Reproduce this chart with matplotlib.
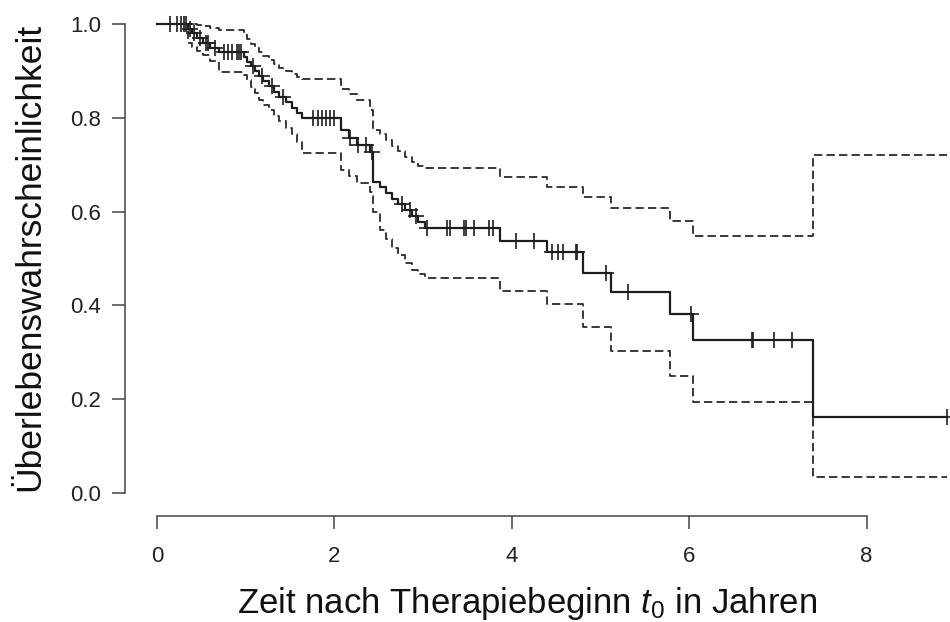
import numpy as np
import matplotlib
matplotlib.use('Agg')
import matplotlib.pyplot as plt

plt.rcParams['font.family'] = 'Liberation Sans'
plt.rcParams['mathtext.fontset'] = 'custom'
plt.rcParams['mathtext.rm'] = 'Liberation Sans'
plt.rcParams['mathtext.it'] = 'Liberation Sans:italic'
plt.rcParams['lines.scale_dashes'] = False

# Kaplan-Meier Schätzung: Ereigniszeiten (Jahre) und Überlebenswahrscheinlichkeit danach
zeiten = [0.35, 0.40, 0.45, 0.52, 0.60, 0.70, 0.98, 1.02, 1.06, 1.10, 1.15, 1.20,
          1.26, 1.32, 1.38, 1.45, 1.52, 1.58, 1.64, 2.08, 2.17, 2.25, 2.40, 2.43,
          2.51, 2.58, 2.65, 2.72, 2.80, 2.87, 2.94, 3.02, 3.87, 4.40, 4.80, 5.12,
          5.78, 6.04, 7.40]
surv = [0.990, 0.980, 0.970, 0.960, 0.950, 0.940, 0.930, 0.920, 0.910, 0.900, 0.889, 0.878,
        0.867, 0.856, 0.845, 0.834, 0.822, 0.811, 0.800, 0.774, 0.757, 0.742, 0.727, 0.663,
        0.652, 0.640, 0.628, 0.616, 0.604, 0.591, 0.578, 0.565, 0.537, 0.514, 0.470, 0.429,
        0.382, 0.326, 0.162]
# 95%-Konfidenzband
ki_oben = [1.000, 1.000, 0.998, 0.995, 0.992, 0.988, 0.980, 0.968, 0.958, 0.948, 0.940, 0.932,
           0.924, 0.915, 0.907, 0.899, 0.893, 0.888, 0.883, 0.862, 0.850, 0.838, 0.816, 0.775,
           0.765, 0.752, 0.740, 0.729, 0.717, 0.706, 0.697, 0.693, 0.674, 0.652, 0.631, 0.608,
           0.580, 0.548, 0.720]
ki_unten = [0.960, 0.952, 0.943, 0.933, 0.922, 0.897, 0.891, 0.880, 0.866, 0.852, 0.838, 0.827,
            0.816, 0.804, 0.793, 0.778, 0.765, 0.748, 0.725, 0.689, 0.675, 0.661, 0.642, 0.600,
            0.560, 0.542, 0.522, 0.507, 0.490, 0.476, 0.466, 0.458, 0.431, 0.403, 0.354, 0.303,
            0.249, 0.194, 0.034]
# zensierte Beobachtungen
zensiert = [0.15, 0.23, 0.27, 0.30, 0.33, 0.37, 0.42, 0.48, 0.55, 0.58, 0.65, 0.75, 0.80,
            0.85, 0.90, 0.93, 0.95, 1.08, 1.18, 1.30, 1.42, 1.76, 1.82, 1.86, 1.90, 1.95,
            1.99, 2.18, 2.27, 2.36, 2.42, 2.76, 2.85, 2.92, 3.04, 3.27, 3.30, 3.46, 3.48,
            3.57, 3.74, 3.79, 4.05, 4.25, 4.45, 4.52, 4.58, 4.72, 4.73, 5.06, 5.31, 6.02,
            6.71, 6.72, 6.96, 7.16, 8.91]
t_max = 8.91

x_ticks = [0, 2, 4, 6, 8]
y_ticks = [0.0, 0.2, 0.4, 0.6, 0.8, 1.0]


def stufen(t, s):
    # Treppenfunktion ab t=0 mit S=1 bis zur letzten Beobachtung
    tt = np.concatenate([[0.0], t, [t_max]])
    ss = np.concatenate([[1.0], s, [s[-1]]])
    return tt, ss


fig = plt.figure(figsize=(9.5, 6.22), dpi=100)
ax = fig.add_axes([125.4 / 950, (622 - 511.8) / 622, 1 - 125.4 / 950, 506.5 / 622])
ax.set_xlim(-0.356, 8.94)
ax.set_ylim(-0.04, 1.04)

farbe = '#1e1e1e'
for werte in (ki_oben, ki_unten):
    tt, ss = stufen(zeiten, werte)
    ln, = ax.step(tt, ss, where='post', color='#2a2a2a', lw=1.3)
    ln.set_dashes([6.0, 3.0])

tt, ss = stufen(zeiten, surv)
ax.step(tt, ss, where='post', color=farbe, lw=1.6)

idx = np.searchsorted(zeiten, zensiert, side='right') - 1
s_z = np.where(idx >= 0, np.array(surv)[np.clip(idx, 0, None)], 1.0)
ax.plot(zensiert, s_z, ls='none', marker='+', ms=11, mew=1.2, color=farbe)

for s in ('top', 'right'):
    ax.spines[s].set_visible(False)
ax.spines['left'].set_bounds(0, 1)
ax.spines['bottom'].set_bounds(0, 8)
ax.spines['bottom'].set_position(('outward', 3))
for s in ('left', 'bottom'):
    ax.spines[s].set_color('#444444')
    ax.spines[s].set_linewidth(1.1)

ax.set_xticks(x_ticks)
ax.set_yticks(y_ticks)
ax.set_yticklabels([f'{v:.1f}' for v in y_ticks])
ax.tick_params(axis='both', length=9.5, width=1.1, color='#444444', labelsize=16, labelcolor='#222222')
ax.tick_params(axis='y', pad=8)
ax.tick_params(axis='x', pad=12)

fig.text(30 / 950, 1 - 257 / 622, 'Überlebenswahrscheinlichkeit', rotation=90,
         ha='center', va='center', fontsize=25.5, color='#111111')
fig.text(527 / 950, 1 - 603 / 622, r'Zeit nach Therapiebeginn $\mathit{t}_{\mathit{0}}$ in Jahren',
         ha='center', va='center', fontsize=25, color='#111111')

fig.savefig('out.png', dpi=100)
